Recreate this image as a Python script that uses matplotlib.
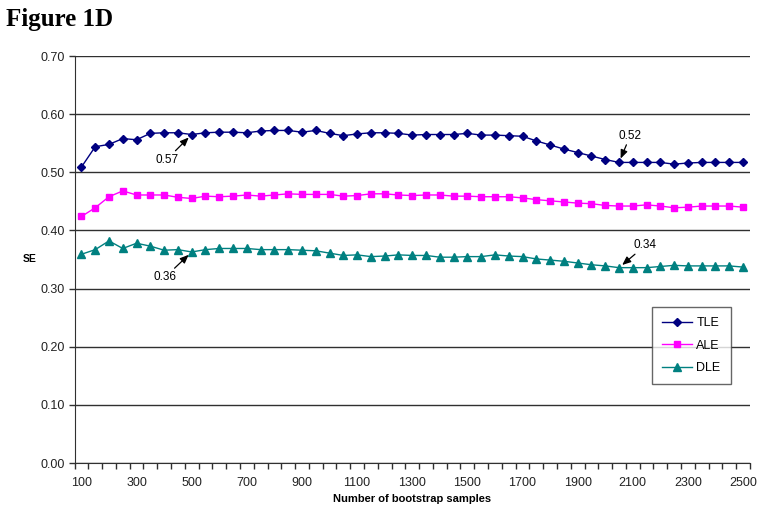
import numpy as np
import matplotlib
matplotlib.use('Agg')
import matplotlib.pyplot as plt

# Data
samples = list(range(100, 2501, 50))
tle = [0.509, 0.544, 0.548, 0.558, 0.556, 0.567, 0.568, 0.568, 0.565, 0.568,
       0.569, 0.569, 0.568, 0.571, 0.572, 0.572, 0.569, 0.572, 0.567, 0.563,
       0.566, 0.568, 0.568, 0.567, 0.564, 0.565, 0.565, 0.565, 0.567, 0.564,
       0.564, 0.563, 0.562, 0.554, 0.547, 0.540, 0.534, 0.528, 0.522, 0.517,
       0.517, 0.517, 0.517, 0.514, 0.516, 0.517, 0.517, 0.517, 0.517]
ale = [0.424, 0.439, 0.458, 0.468, 0.461, 0.461, 0.461, 0.457, 0.455, 0.459,
       0.458, 0.459, 0.461, 0.459, 0.461, 0.463, 0.462, 0.462, 0.462, 0.459,
       0.460, 0.463, 0.463, 0.461, 0.460, 0.461, 0.461, 0.459, 0.459, 0.458,
       0.458, 0.458, 0.456, 0.453, 0.451, 0.449, 0.447, 0.446, 0.443, 0.442,
       0.442, 0.444, 0.442, 0.439, 0.440, 0.442, 0.442, 0.442, 0.440]
dle = [0.359, 0.367, 0.382, 0.369, 0.378, 0.373, 0.366, 0.367, 0.363, 0.367,
       0.369, 0.369, 0.369, 0.367, 0.367, 0.367, 0.366, 0.365, 0.361, 0.357,
       0.358, 0.355, 0.356, 0.358, 0.357, 0.357, 0.354, 0.354, 0.355, 0.355,
       0.358, 0.356, 0.355, 0.351, 0.349, 0.347, 0.344, 0.341, 0.339, 0.336,
       0.336, 0.336, 0.338, 0.340, 0.339, 0.339, 0.339, 0.339, 0.337]
y_ticks = [0.0, 0.1, 0.2, 0.3, 0.4, 0.5, 0.6, 0.7]

# callouts: (series, sample, label, offset in points)
callouts = [(tle, 500, '0.57', (-18, -18)),
            (tle, 2050, '0.52', (8, 19)),
            (dle, 500, '0.36', (-19, -18)),
            (dle, 2050, '0.34', (19, 16))]

plt.rcParams['font.family'] = ['Liberation Sans', 'DejaVu Sans']

fig = plt.figure(figsize=(7.62, 5.14), dpi=100)
ax = fig.add_axes([0.0978, 0.0992, 0.8864, 0.7918])

x = np.arange(len(samples))
ax.plot(x, tle, color='#000080', marker='D', markersize=4, lw=1, label='TLE')
ax.plot(x, ale, color='#FF00FF', marker='s', markersize=5, lw=1, label='ALE')
ax.plot(x, dle, color='#008080', marker='^', markersize=5.5, lw=1, label='DLE')

ax.set_xlim(-0.5, len(samples) - 0.5)
ax.set_ylim(0, 0.7)
ax.set_yticks(y_ticks)
ax.set_yticklabels(['%.2f' % v for v in y_ticks], fontsize=9, color='#222222')
ax.yaxis.grid(True, color='#303030', lw=1)
ax.set_axisbelow(True)

# category labels every 4th sample, tick marks between categories
ax.set_xticks(x[::4])
ax.set_xticklabels([str(s) for s in samples[::4]], fontsize=9, color='#222222')
ax.set_xticks(np.arange(len(samples) + 1) - 0.5, minor=True)
ax.tick_params(axis='x', which='major', length=0, pad=10)
ax.tick_params(axis='x', which='minor', length=4, width=1, color='#303030')
ax.tick_params(axis='y', length=4, width=1, color='#303030', pad=3)

for side in ['top', 'right']:
    ax.spines[side].set_visible(False)
for side in ['left', 'bottom']:
    ax.spines[side].set_color('#303030')

ax.set_xlabel('Number of bootstrap samples', fontsize=8, fontweight='bold',
              labelpad=4)
fig.text(0.030, 0.497, 'SE', fontsize=7.5, fontweight='bold', ha='left', va='center')

for series, s, label, off in callouts:
    i = samples.index(s)
    ax.annotate(label, xy=(i, series[i]), xytext=off, textcoords='offset points',
                fontsize=8.5, ha='center', va='center',
                arrowprops=dict(arrowstyle='-|>,head_length=0.6,head_width=0.25',
                                color='black', lw=0.9, shrinkA=0, shrinkB=3))

leg = ax.legend(loc='upper left', bbox_to_anchor=(652 / 762, 1 - 307 / 514),
                bbox_transform=fig.transFigure, fontsize=9, frameon=True,
                fancybox=False, edgecolor='#404040', labelspacing=0.85,
                handlelength=2.4, handletextpad=0.35, borderpad=0.8,
                borderaxespad=0)
leg.get_frame().set_linewidth(1)

fig.text(0.008, 0.962, 'Figure 1D', fontsize=18, fontweight='bold',
         family=['Liberation Serif', 'DejaVu Serif'], ha='left', va='center')

fig.savefig('out.png', dpi=100)
